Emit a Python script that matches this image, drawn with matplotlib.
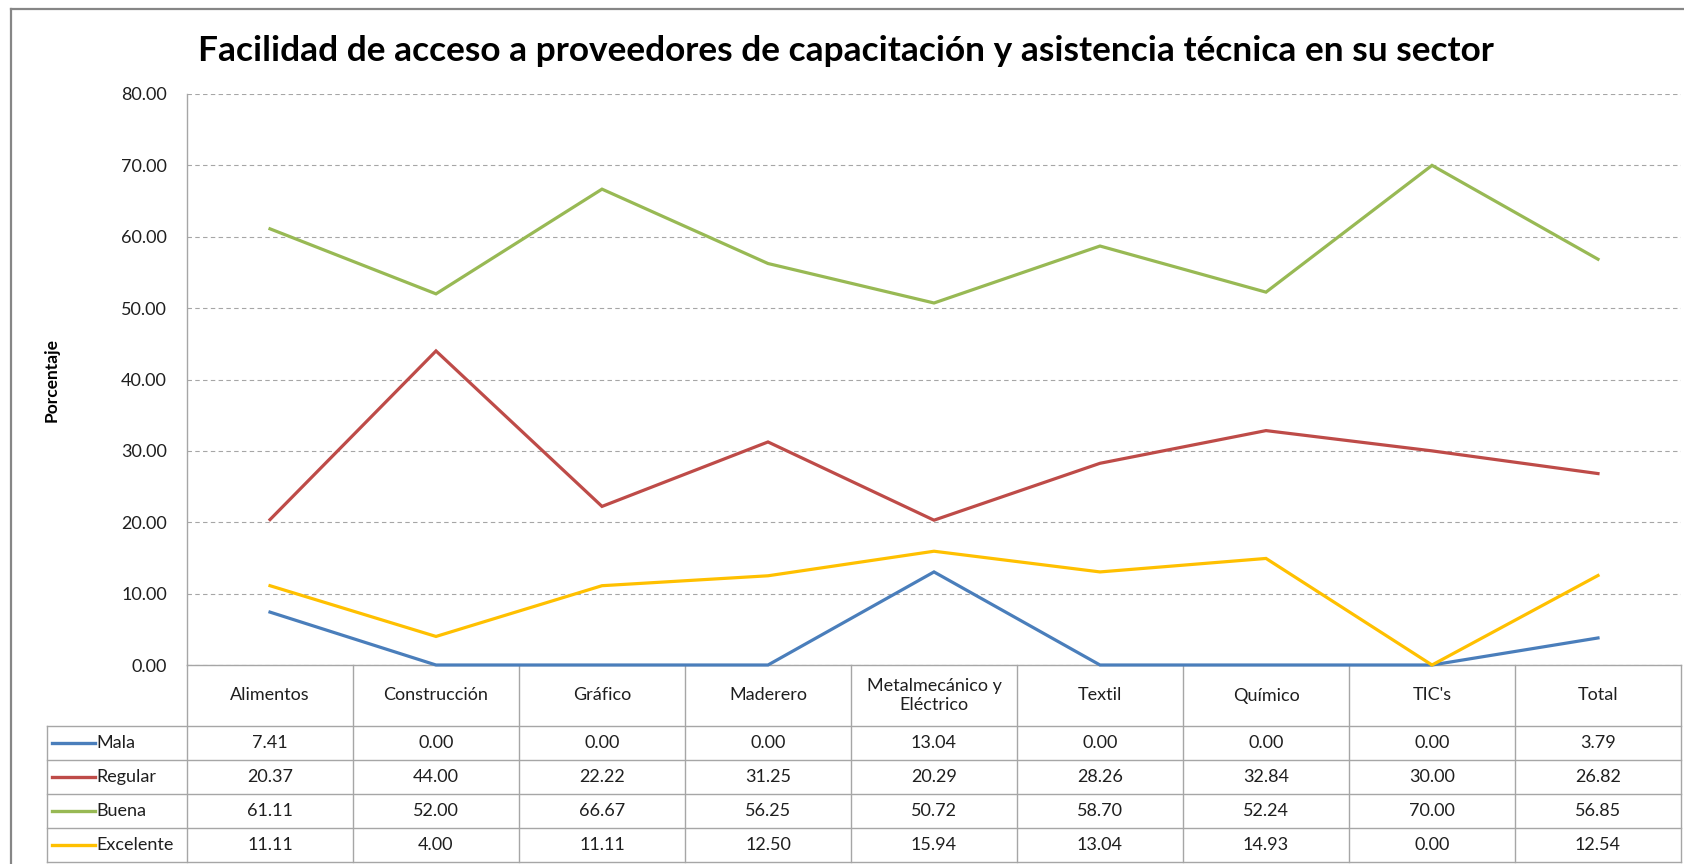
import matplotlib
matplotlib.use("Agg")
import matplotlib.pyplot as plt
from matplotlib import transforms
from matplotlib.lines import Line2D
from matplotlib.ticker import FormatStrFormatter

# ---------------- data ----------------
categories = ["Alimentos", "Construcción", "Gráfico", "Maderero",
              "Metalmecánico y\nEléctrico", "Textil", "Químico", "TIC's", "Total"]
series_names = ["Mala", "Regular", "Buena", "Excelente"]
mala = [7.41, 0.00, 0.00, 0.00, 13.04, 0.00, 0.00, 0.00, 3.79]
regular = [20.37, 44.00, 22.22, 31.25, 20.29, 28.26, 32.84, 30.00, 26.82]
buena = [61.11, 52.00, 66.67, 56.25, 50.72, 58.70, 52.24, 70.00, 56.85]
excelente = [11.11, 4.00, 11.11, 12.50, 15.94, 13.04, 14.93, 0.00, 12.54]
series_values = [mala, regular, buena, excelente]
series_colors = ["#4A7EBB", "#BE4B48", "#98B954", "#FFC000"]
title = "Facilidad de acceso a proveedores de capacitación y asistencia técnica en su sector"
ylabel = "Porcentaje"

# ---------------- layout ----------------
W, H, DPI = 1684, 864, 100
plt.rcParams['font.family'] = ['Lato', 'DejaVu Sans']
fig = plt.figure(figsize=(W / DPI, H / DPI), dpi=DPI)
fig.patch.set_facecolor('white')


def fx(px):
    return px / W


def fy(py):
    return 1 - py / H


X0, X1, YTOP, YBOT = 187, 1681, 94, 665
GRID = '#A6A6A6'
TXT = '#1F1F1F'
FS = 13
ax = fig.add_axes([fx(X0), fy(YBOT), fx(X1) - fx(X0), fy(YTOP) - fy(YBOT)])
n = len(categories)
ax.set_xlim(-0.5, n - 0.5)
ax.set_ylim(0, 80)
ax.set_yticks(range(0, 81, 10))
ax.yaxis.set_major_formatter(FormatStrFormatter('%.2f'))
ax.tick_params(axis='y', length=0, pad=20 * 72 / DPI, labelsize=FS, labelcolor=TXT)
ax.set_xticks([])
for s in ['top', 'right']:
    ax.spines[s].set_visible(False)
for s in ['left', 'bottom']:
    ax.spines[s].set_color(GRID)
    ax.spines[s].set_linewidth(1.0)
ax.grid(axis='y', linestyle=(0, (4, 3)), color=GRID, lw=0.8)
ax.set_axisbelow(True)
ax.patch.set_alpha(0)

xs = list(range(n))
for vals, col in zip(series_values, series_colors):
    ax.plot(xs, vals, color=col, lw=2.3, clip_on=False, zorder=3,
            solid_joinstyle='miter')

# ---------------- data table ----------------
bt = transforms.blended_transform_factory(ax.transData, fig.transFigure)
row_edges = [665, 726, 760, 794, 828, 862]
LEG_X = 47

for yy in row_edges[1:]:
    fig.add_artist(Line2D([fx(LEG_X), fx(X1)], [fy(yy), fy(yy)],
                          transform=fig.transFigure, color=GRID, lw=1.0))
for k in range(n + 1):
    ax.add_line(Line2D([k - 0.5, k - 0.5], [fy(row_edges[0]), fy(row_edges[-1])],
                       transform=bt, color=GRID, lw=1.0, clip_on=False))
fig.add_artist(Line2D([fx(LEG_X), fx(LEG_X)], [fy(row_edges[1]), fy(row_edges[-1])],
                      transform=fig.transFigure, color=GRID, lw=1.0))

hy = (row_edges[0] + row_edges[1]) / 2
for i, c in enumerate(categories):
    ax.text(i, fy(hy), c, transform=bt, ha='center', va='center',
            fontsize=FS, color=TXT, linespacing=1.3, clip_on=False)

for r, (name, vals, col) in enumerate(zip(series_names, series_values, series_colors)):
    yc = (row_edges[r + 1] + row_edges[r + 2]) / 2
    fig.add_artist(Line2D([fx(52), fx(95)], [fy(yc), fy(yc)], transform=fig.transFigure,
                          color=col, lw=2.4))
    fig.text(fx(96), fy(yc), name, ha='left', va='center', fontsize=FS, color=TXT)
    for i, v in enumerate(vals):
        ax.text(i, fy(yc), f"{v:.2f}", transform=bt, ha='center', va='center',
                fontsize=FS, color=TXT, clip_on=False)

# ---------------- frame, labels, title ----------------
BORDER = '#868686'
fig.add_artist(Line2D([fx(11), fx(11)], [fy(9), fy(H + 5)], transform=fig.transFigure,
                      color=BORDER, lw=1.6))
fig.add_artist(Line2D([fx(11), fx(W + 5)], [fy(9), fy(9)], transform=fig.transFigure,
                      color=BORDER, lw=1.6))

fig.text(fx(52), fy(380), ylabel, rotation=90, ha='center', va='center',
         fontsize=12.5, fontweight='bold', color='black')

t = fig.text(fx(846), fy(61), title, ha='center', va='baseline',
             fontsize=24, fontweight='bold', color='black')
fig.canvas.draw()
wpx = t.get_window_extent().width
target = 1495 - 197
t.set_fontsize(24 * target / wpx)

fig.savefig('out.png', dpi=DPI)
